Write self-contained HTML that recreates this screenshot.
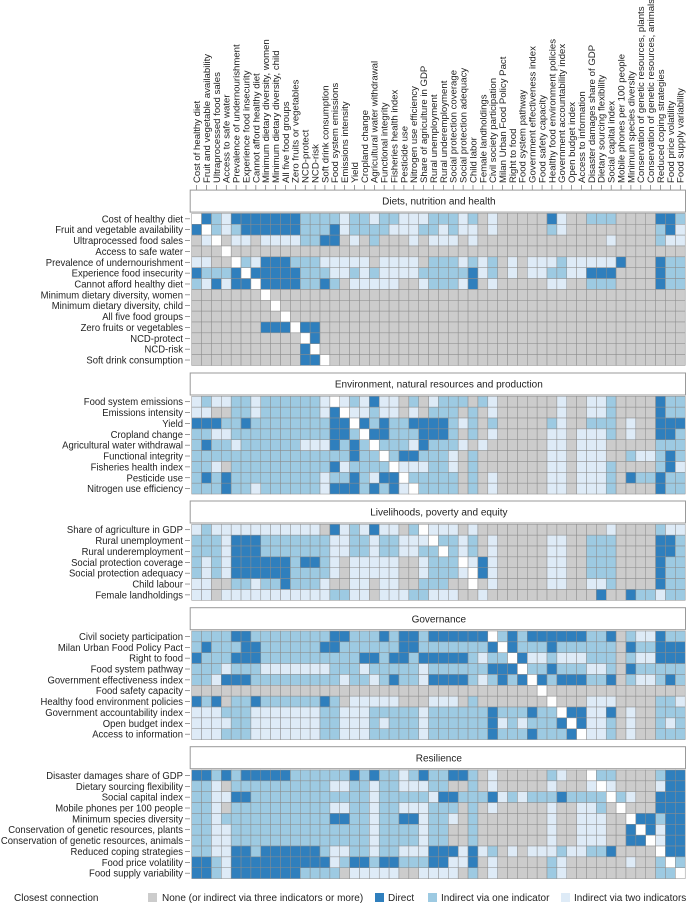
<!DOCTYPE html>
<html><head><meta charset="utf-8"><style>
html,body{margin:0;padding:0;background:#fff}
svg{display:block;font-family:"Liberation Sans",sans-serif}
</style></head><body>
<svg id="chart" width="687" height="903" viewBox="0 0 687 903" xmlns="http://www.w3.org/2000/svg"></svg>
<script>
const indicators = ["Cost of healthy diet","Fruit and vegetable availability","Ultraprocessed food sales","Access to safe water","Prevalence of undernourishment","Experience food insecurity","Cannot afford healthy diet","Minimum dietary diversity, women","Minimum dietary diversity, child","All five food groups","Zero fruits or vegetables","NCD-protect","NCD-risk","Soft drink consumption","Food system emissions","Emissions intensity","Yield","Cropland change","Agricultural water withdrawal","Functional integrity","Fisheries health index","Pesticide use","Nitrogen use efficiency","Share of agriculture in GDP","Rural unemployment","Rural underemployment","Social protection coverage","Social protection adequacy","Child labor","Female landholdings","Civil society participation","Milan Urban Food Policy Pact","Right to food","Food system pathway","Government effectiveness index","Food safety capacity","Healthy food environment policies","Government accountability index","Open budget index","Access to information","Disaster damages share of GDP","Dietary sourcing flexibility","Social capital index","Mobile phones per 100 people","Minimum species diversity","Conservation of genetic resources, plants","Conservation of genetic resources, animals","Reduced coping strategies","Food price volatility","Food supply variability"];
const rowLabels = indicators.slice();
rowLabels[28] = "Child labour";
const domains = ["Diets, nutrition and health","Environment, natural resources and production","Livelihoods, poverty and equity","Governance","Resilience"];
const domainSizes = [14, 9, 7, 10, 10];
// 0 none, 1 direct, 2 indirect via one, 3 indirect via two, 9 self
const connections = [
"9123111111 1222232232 2333222320 3000001300 2220000112",
"1923211111 1222132222 3332232330 3000002300 0000000213",
"0390330333 3221103020 0030333030 0000000000 0030000233",
"0009000000 0000000000 0000000000 0000000000 0000000000",
"3300923111 2223333303 3330222323 2030333233 3331000122",
"1222191111 1222332323 3332222213 2030332233 1110000122",
"2313119111 1221203333 3003222310 3000003300 2220000122",
"0000000900 0000000000 0000000000 0000000000 0000000000",
"0000000090 0000000000 0000000000 0000000000 0000000000",
"0000000009 0000000000 0000000000 0000000000 0000000000",
"0000000111 9110000000 0000000000 0000000000 0000000000",
"0000000000 0910000000 0000000000 0000000000 0000000000",
"0000000000 0190000000 0000000000 0000000000 0000000000",
"0000000000 0119000000 0000000000 0000000000 0000000000",
"3233223222 2223932313 3020322202 3000000300 3320000122",
"3300223222 2223193323 3030222020 3000000300 3320000122",
"1112212222 2222119121 2211112320 2000002300 2220300111",
"2233222222 2222112911 2221112020 3000003303 3320300112",
"2122322222 2333121292 2231222303 0000003303 3300000222",
"2222222222 2222221229 2112223020 0000003303 3300233212",
"2230222222 2222132222 9333223020 0000003303 3320000213",
"2121222222 2223221231 1922222020 3000003303 3320122122",
"2221223222 2223111212 1392222020 3000003303 3320000122",
"3233333333 3330132313 3029333030 0000000000 0030000233",
"2223111222 2222332232 2333922320 3000003300 2220000112",
"2223111222 2222332232 2332292320 3000003300 2220000112",
"2323111111 2112303333 3003222931 3000003300 2220000122",
"2323111111 2222303333 3003222391 3000003300 2220000122",
"3300223221 2223003303 3002220090 3000003300 3320000122",
"3303333333 3333223303 3322333003 0000000000 0100122322",
"2222112222 2222112221 2112111111 9212111111 2210233122",
"2122211222 2221122222 2112222222 1912221222 2220122111",
"1222111222 2222222112 1121111123 2291332333 2220233111",
"2223222333 3333222322 2223222222 1119221222 3320122222",
"2231112222 2222232232 1223111123 2121912111 2210233212",
"0000000000 0000000000 0000000000 0000090000 0000000000",
"1210221222 2221203333 3000333020 0000009000 3330000223",
"3332223333 3332233322 2223222222 1222122911 3310300222",
"3333223333 3332233323 2223222222 1323222191 3320300232",
"3332223333 3332233322 2223222222 1222122219 3320300222",
"1121211111 2222221212 2321221120 3000002300 9220000211",
"2230222222 2222332232 2333220020 3000003000 3930000311",
"2233112222 2222222232 2222311222 1323222122 2292300111",
"2230222222 2222332232 2333222020 3000003003 3209000111",
"2232222222 2222112232 2113223020 0000003003 3300911211",
"2233222222 2222222232 2223220020 0000003003 3300191311",
"2233222222 2222222232 2223220020 0000003003 3300119311",
"2233112111 1112332232 2333111313 2030333233 2210000911",
"1123111111 1111321121 1222113310 3000002300 0000300292",
"1123111111 1222203333 3003333020 3000002300 0000000229"
];
const legendLabels = ["None (or indirect via three indicators or more)","Direct","Indirect via one indicator","Indirect via two indicators"];

const NS = "http://www.w3.org/2000/svg";
const svg = document.getElementById("chart");
const colors = {"0":"#cccccc","1":"#2f7fbd","2":"#9dcae2","3":"#deebf7","9":"#ffffff"};
const gridLeft = 191.7, cellW = 9.87, cellH = 10.86;
const panelTops = [213.4, 396.3, 524.3, 631.0, 770.0];
function colX(i){ return gridLeft + cellW * i; }
function mk(tag, attrs){ const e = document.createElementNS(NS, tag); for (const k in attrs) e.setAttribute(k, attrs[k]); svg.appendChild(e); return e; }

indicators.forEach((lab, i) => {
  const cx = colX(i) + cellW / 2;
  const t = mk("text", {x: 0, y: 0, transform: `translate(${cx + 3.4},183) rotate(-90)`, "font-size": "9.6", fill: "#222"});
  t.textContent = lab;
  
  
  mk("line", {x1: cx, x2: cx, y1: 185, y2: 190, stroke: "#555", "stroke-width": 0.6});
});

let rowIdx = 0;
domainSizes.forEach((n, d) => {
  const top = panelTops[d];
  const hb = mk("rect", {x: gridLeft - 1.5, y: top - 23.3, width: 687 - gridLeft, height: 22, fill: "#fff", stroke: "#999", "stroke-width": 1});
  
  
  const ht = mk("text", {x: (gridLeft + 686) / 2, y: top - 8.7, "text-anchor": "middle", "font-size": "10", fill: "#222"});
  ht.textContent = domains[d];
  
  
  for (let r = 0; r < n; r++, rowIdx++) {
    const y = top + r * cellH;
    const row = connections[rowIdx].replace(/ /g, "");
    for (let c = 0; c < indicators.length; c++) {
      const cell = mk("rect", {x: colX(c), y: y, width: cellW, height: cellH, fill: colors[row[c]], stroke: "#8c8c8c", "stroke-width": 0.5});
      
      
    }
    const lt = mk("text", {x: 0, y: 0, transform: `translate(183,${y + cellH / 2 + 3.5}) scale(0.95,1)`, "text-anchor": "end", "font-size": "10", fill: "#222"});
    lt.textContent = rowLabels[rowIdx];
    
    
    mk("line", {x1: 185, x2: 190, y1: y + cellH / 2, y2: y + cellH / 2, stroke: "#555", "stroke-width": 0.6});
  }
});

const lg = mk("text", {x: 14, y: 901, "font-size": "10", fill: "#222"});
lg.textContent = "Closest connection";


const legendPos = [[148, 162], [375, 388], [428, 441], [561, 574]];
const legendKeys = ["0", "1", "2", "3"];
legendLabels.forEach((lab, i) => {
  const sw = mk("rect", {x: legendPos[i][0], y: 893, width: 9, height: 9, fill: colors[legendKeys[i]]});
  
  
  const tx = mk("text", {x: legendPos[i][1], y: 901, "font-size": "10", fill: "#222"});
  tx.textContent = lab;
  
  
});
</script>
</body></html>
